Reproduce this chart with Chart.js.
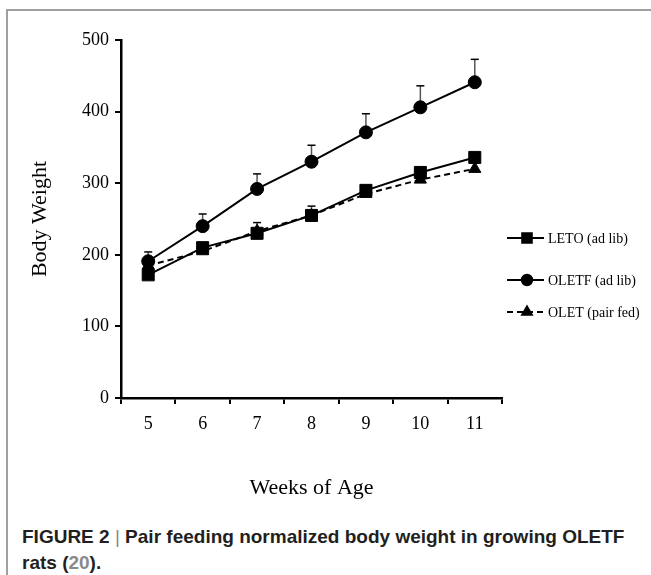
<!DOCTYPE html>
<html>
<head>
<meta charset="utf-8">
<script src="https://cdn.jsdelivr.net/npm/chart.js@4.4.1/dist/chart.umd.min.js"></script>
<style>
    html, body { margin: 0; padding: 0; background: #fff; }
    body { width: 651px; height: 575px; position: relative; overflow: hidden; }
    .frame { position: absolute; left: 6px; top: 9px; right: 0; bottom: 0;
             border-left: 2px solid #a0a0a0; border-top: 2px solid #a0a0a0; }
    .chart-box { position: absolute; left: 0; top: 0; width: 651px; height: 510px; }
    .caption { position: absolute; left: 22px; top: 524px; width: 625px;
               font: bold 19px "Liberation Sans", Arial, sans-serif; line-height: 26px; color: #231f20; }
    .caption .sep { font-weight: normal; color: #888; }
    .caption .ref { color: #8a8a8a; }
</style>
</head>
<body>
<div class="frame"></div>
<div class="chart-box"><canvas id="bwChart" width="651" height="510"></canvas></div>
<div class="caption">FIGURE 2 <span class="sep">|</span> Pair feeding normalized body weight in growing OLETF<br>rats (<span class="ref">20</span>).</div>
<script>
// --- DATA ---
const weeks = ['5', '6', '7', '8', '9', '10', '11'];
const letoAdLib = [172, 210, 230, 255, 290, 315, 336];
const oletfAdLib = [191, 240, 292, 330, 371, 406, 441];
const oletPairFed = [185, 205, 233, 255, 285, 305, 320];
const oletfErr = [13, 17, 21, 23, 26, 30, 32];
const letoErr = [0, 0, 15, 13, 0, 0, 0];
const yTicks = [0, 100, 200, 300, 400, 500];

const serif = '"Liberation Serif", "Times New Roman", serif';

// upward error bars, drawn under the markers
const errorBars = {
    id: 'errorBars',
    beforeDatasetsDraw(chart) {
        const { ctx, scales: { x, y } } = chart;
        const sets = [[oletfAdLib, oletfErr], [letoAdLib, letoErr]];
        ctx.save();
        ctx.lineWidth = 1.5;
        sets.forEach(([vals, errs]) => {
            vals.forEach((v, i) => {
                if (!errs[i]) return;
                const px = x.getPixelForValue(i);
                const y0 = y.getPixelForValue(v);
                const y1 = y.getPixelForValue(v + errs[i]);
                ctx.strokeStyle = '#555';
                ctx.beginPath(); ctx.moveTo(px, y0); ctx.lineTo(px, y1); ctx.stroke();
                ctx.strokeStyle = '#000';
                ctx.beginPath(); ctx.moveTo(px - 4, y1); ctx.lineTo(px + 4, y1); ctx.stroke();
            });
        });
        ctx.restore();
    }
};

// legend on the right, line sample with marker through it
const sideLegend = {
    id: 'sideLegend',
    afterDraw(chart) {
        const { ctx } = chart;
        const rows = [238, 280, 312];
        chart.data.datasets.forEach((ds, i) => {
            const yy = rows[i];
            ctx.save();
            ctx.strokeStyle = '#000';
            ctx.lineWidth = 2;
            ctx.setLineDash(ds.borderDash || []);
            ctx.beginPath(); ctx.moveTo(507, yy); ctx.lineTo(544, yy); ctx.stroke();
            ctx.setLineDash([]);
            Chart.helpers.drawPoint(ctx, {
                pointStyle: ds.pointStyle, radius: ds.pointRadius * 0.8, borderWidth: 1
            }, 527, yy);
            ctx.fillStyle = '#000';
            ctx.font = '14px ' + serif;
            ctx.textBaseline = 'middle';
            ctx.fillText(ds.label, 548, yy + 1);
            ctx.restore();
        });
    }
};

document.addEventListener('DOMContentLoaded', () => {
    const ctx = document.getElementById('bwChart').getContext('2d');
    const base = { borderColor: '#000', backgroundColor: '#000', pointBorderColor: '#000',
                   pointBackgroundColor: '#000', borderWidth: 2, tension: 0, pointBorderWidth: 1 };
    new Chart(ctx, {
        type: 'line',
        data: {
            labels: weeks,
            datasets: [
                { ...base, label: 'LETO (ad lib)', data: letoAdLib, pointStyle: 'rect', pointRadius: 8.5, order: 2 },
                { ...base, label: 'OLETF (ad lib)', data: oletfAdLib, pointStyle: 'circle', pointRadius: 6.5, order: 1 },
                { ...base, label: 'OLET (pair fed)', data: oletPairFed, pointStyle: 'triangle', pointRadius: 7,
                  borderDash: [6, 4], order: 3 }
            ]
        },
        options: {
            responsive: false,
            animation: false,
            layout: { padding: { top: 40, right: 149, left: 0, bottom: 0 } },
            plugins: { legend: { display: false }, tooltip: { enabled: false } },
            scales: {
                x: {
                    offset: true,
                    grid: { offset: true, drawOnChartArea: false, tickLength: 6, color: '#000', lineWidth: 2 },
                    border: { color: '#000', width: 2.5 },
                    ticks: { color: '#000', font: { family: serif, size: 18 }, padding: 9 },
                    title: { display: true, text: 'Weeks of Age', color: '#000',
                             font: { family: serif, size: 22 }, padding: { top: 0, bottom: 9 } },
                    afterFit: (s) => { s.height = 112; }
                },
                y: {
                    min: 0, max: 500,
                    afterBuildTicks: (s) => { s.ticks = yTicks.map(v => ({ value: v })); },
                    grid: { drawOnChartArea: false, tickLength: 6, color: '#000', lineWidth: 2 },
                    border: { color: '#000', width: 2.5 },
                    ticks: { color: '#000', font: { family: serif, size: 18 }, padding: 6 },
                    title: { display: true, text: 'Body Weight', color: '#000',
                             font: { family: serif, size: 22 }, padding: { top: 27, bottom: 0 } },
                    afterFit: (s) => { s.width = 121; }
                }
            }
        },
        plugins: [errorBars, sideLegend]
    });
});
</script>
</body>
</html>
